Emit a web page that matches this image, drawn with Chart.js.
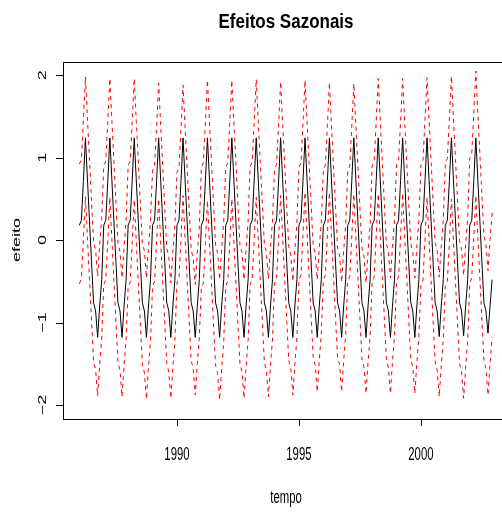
<!DOCTYPE html>
<html>
<head>
<meta charset="utf-8">
<script src="https://cdn.jsdelivr.net/npm/chart.js@4.4.0/dist/chart.umd.min.js"></script>
<style>
  html, body { margin: 0; padding: 0; background: #fff; overflow: hidden; }
  #wrap { width: 502px; height: 515px; overflow: hidden; }
</style>
</head>
<body>
<div id="wrap"><canvas id="myChart" width="512" height="515"></canvas></div>
<script>
// monthly seasonal effects, one row per year (Jan..Dec)
const anos = [1986, 1987, 1988, 1989, 1990, 1991, 1992, 1993, 1994, 1995, 1996, 1997, 1998, 1999, 2000, 2001, 2002];

const efeito = [
  [0.18, 0.24, 0.72, 1.24, 0.73, 0.23, -0.27, -0.76, -0.86, -1.18, -0.80, -0.48],
  [0.18, 0.24, 0.72, 1.24, 0.73, 0.23, -0.27, -0.76, -0.86, -1.18, -0.80, -0.48],
  [0.18, 0.24, 0.72, 1.24, 0.73, 0.23, -0.27, -0.76, -0.86, -1.18, -0.80, -0.48],
  [0.18, 0.24, 0.72, 1.24, 0.73, 0.23, -0.27, -0.76, -0.86, -1.18, -0.80, -0.48],
  [0.18, 0.24, 0.72, 1.24, 0.73, 0.23, -0.27, -0.76, -0.86, -1.18, -0.80, -0.48],
  [0.18, 0.24, 0.72, 1.24, 0.73, 0.23, -0.27, -0.76, -0.86, -1.18, -0.80, -0.48],
  [0.18, 0.24, 0.72, 1.24, 0.73, 0.23, -0.27, -0.76, -0.86, -1.18, -0.80, -0.48],
  [0.18, 0.24, 0.72, 1.24, 0.73, 0.23, -0.27, -0.76, -0.86, -1.18, -0.80, -0.48],
  [0.18, 0.24, 0.72, 1.24, 0.73, 0.23, -0.27, -0.76, -0.86, -1.18, -0.80, -0.48],
  [0.18, 0.24, 0.72, 1.24, 0.73, 0.23, -0.27, -0.76, -0.86, -1.18, -0.80, -0.48],
  [0.18, 0.24, 0.72, 1.24, 0.73, 0.23, -0.27, -0.76, -0.86, -1.18, -0.80, -0.48],
  [0.18, 0.24, 0.72, 1.24, 0.73, 0.23, -0.27, -0.76, -0.86, -1.18, -0.80, -0.48],
  [0.18, 0.24, 0.72, 1.24, 0.73, 0.23, -0.27, -0.76, -0.86, -1.18, -0.80, -0.48],
  [0.18, 0.24, 0.72, 1.24, 0.73, 0.23, -0.27, -0.76, -0.86, -1.18, -0.80, -0.48],
  [0.18, 0.24, 0.72, 1.24, 0.73, 0.23, -0.27, -0.76, -0.86, -1.17, -0.80, -0.48],
  [0.18, 0.24, 0.72, 1.24, 0.73, 0.23, -0.27, -0.76, -0.86, -1.16, -0.80, -0.48],
  [0.18, 0.24, 0.72, 1.24, 0.73, 0.23, -0.27, -0.76, -0.86, -1.13, -0.80, -0.48]
];

const limiteSup = [
  [0.92, 0.98, 1.46, 1.98, 1.47, 0.97, 0.47, -0.02, -0.12, -0.44, -0.06, 0.26],
  [0.90, 0.96, 1.44, 1.96, 1.45, 0.95, 0.45, -0.04, -0.14, -0.46, -0.08, 0.24],
  [0.91, 0.95, 1.45, 1.96, 1.44, 0.96, 0.44, -0.05, -0.13, -0.46, -0.09, 0.25],
  [0.84, 0.90, 1.38, 1.90, 1.39, 0.89, 0.39, -0.10, -0.20, -0.52, -0.14, 0.18],
  [0.82, 0.88, 1.36, 1.88, 1.37, 0.87, 0.37, -0.12, -0.22, -0.54, -0.16, 0.16],
  [0.88, 0.94, 1.42, 1.94, 1.43, 0.93, 0.43, -0.06, -0.16, -0.48, -0.10, 0.22],
  [0.89, 0.93, 1.43, 1.94, 1.42, 0.94, 0.42, -0.07, -0.15, -0.48, -0.11, 0.23],
  [0.89, 0.95, 1.43, 1.95, 1.44, 0.94, 0.44, -0.05, -0.15, -0.47, -0.09, 0.23],
  [0.86, 0.92, 1.40, 1.92, 1.41, 0.91, 0.41, -0.08, -0.18, -0.50, -0.12, 0.20],
  [0.88, 0.94, 1.42, 1.94, 1.43, 0.93, 0.43, -0.06, -0.16, -0.48, -0.10, 0.22],
  [0.85, 0.91, 1.39, 1.91, 1.40, 0.90, 0.40, -0.09, -0.19, -0.51, -0.13, 0.19],
  [0.84, 0.90, 1.38, 1.90, 1.39, 0.89, 0.39, -0.10, -0.20, -0.52, -0.14, 0.18],
  [0.90, 0.96, 1.44, 1.96, 1.45, 0.95, 0.45, -0.04, -0.14, -0.46, -0.08, 0.24],
  [0.91, 0.97, 1.44, 1.96, 1.44, 0.95, 0.46, -0.04, -0.15, -0.46, -0.07, 0.24],
  [0.91, 0.97, 1.45, 1.97, 1.46, 0.96, 0.46, -0.03, -0.13, -0.45, -0.07, 0.25],
  [0.93, 0.99, 1.47, 1.99, 1.48, 0.98, 0.48, -0.01, -0.11, -0.43, -0.05, 0.27],
  [0.99, 1.05, 1.53, 2.05, 1.54, 1.04, 0.54, 0.05, -0.05, -0.37, 0.01, 0.33]
];

const limiteInf = [
  [-0.53, -0.47, 0.01, 0.53, 0.02, -0.48, -0.98, -1.47, -1.57, -1.89, -1.51, -1.19],
  [-0.54, -0.48, 0.00, 0.52, 0.01, -0.49, -0.99, -1.48, -1.58, -1.90, -1.52, -1.20],
  [-0.57, -0.51, -0.03, 0.49, -0.02, -0.52, -1.02, -1.51, -1.61, -1.93, -1.55, -1.23],
  [-0.56, -0.50, -0.02, 0.50, -0.01, -0.51, -1.01, -1.50, -1.60, -1.92, -1.54, -1.22],
  [-0.52, -0.46, 0.02, 0.54, 0.03, -0.47, -0.97, -1.46, -1.56, -1.88, -1.50, -1.18],
  [-0.58, -0.52, -0.04, 0.48, -0.03, -0.53, -1.03, -1.52, -1.62, -1.94, -1.56, -1.24],
  [-0.56, -0.50, -0.02, 0.50, -0.01, -0.51, -1.01, -1.50, -1.60, -1.92, -1.54, -1.22],
  [-0.54, -0.48, 0.00, 0.52, 0.01, -0.49, -0.99, -1.48, -1.58, -1.90, -1.52, -1.20],
  [-0.52, -0.46, 0.02, 0.54, 0.03, -0.47, -0.97, -1.46, -1.56, -1.88, -1.50, -1.18],
  [-0.48, -0.42, 0.06, 0.58, 0.07, -0.43, -0.93, -1.42, -1.52, -1.84, -1.46, -1.14],
  [-0.48, -0.43, 0.07, 0.58, 0.06, -0.43, -0.94, -1.42, -1.51, -1.84, -1.47, -1.14],
  [-0.50, -0.44, 0.04, 0.56, 0.05, -0.45, -0.95, -1.44, -1.54, -1.86, -1.48, -1.16],
  [-0.50, -0.45, 0.05, 0.56, 0.04, -0.45, -0.94, -1.44, -1.55, -1.86, -1.48, -1.17],
  [-0.51, -0.44, 0.04, 0.57, 0.05, -0.44, -0.95, -1.45, -1.54, -1.86, -1.49, -1.16],
  [-0.54, -0.48, 0.00, 0.52, 0.01, -0.49, -0.99, -1.48, -1.58, -1.90, -1.52, -1.20],
  [-0.56, -0.50, -0.02, 0.50, -0.01, -0.51, -1.01, -1.50, -1.60, -1.92, -1.54, -1.22],
  [-0.52, -0.46, 0.02, 0.54, 0.03, -0.47, -0.97, -1.46, -1.56, -1.88, -1.50, -1.18]
];

const xTicks = [1990, 1995, 2000];
const yTicks = [-2, -1, 0, 1, 2];
const titulo = 'Efeitos Sazonais';
const xTitulo = 'tempo';
const yTitulo = 'efeito';

function toPoints(rows) {
    const pts = [];
    rows.forEach((row, i) => {
        row.forEach((v, m) => pts.push({ x: anos[i] + m / 12, y: v }));
    });
    return pts;
}

// squashed text like the reference (narrow Helvetica)
function drawText(ctx, text, x, y, font, sx, rot) {
    ctx.save();
    ctx.translate(x, y);
    if (rot) ctx.rotate(-Math.PI / 2);
    if (rot) ctx.scale(1, sx); else ctx.scale(sx, 1);
    ctx.font = font;
    ctx.fillStyle = '#000';
    ctx.textAlign = 'center';
    ctx.textBaseline = 'middle';
    ctx.fillText(text, 0, 0);
    ctx.restore();
}

const rAxes = {
    id: 'rAxes',
    afterDraw(chart) {
        const ctx = chart.ctx;
        const a = chart.chartArea;
        const xs = chart.scales.x;
        const ys = chart.scales.y;
        ctx.save();
        ctx.strokeStyle = '#000';
        ctx.lineWidth = 1;
        ctx.strokeRect(Math.round(a.left) + 0.5, Math.round(a.top) + 0.5, Math.round(a.right - a.left), Math.round(a.bottom - a.top));

        ctx.beginPath();
        xTicks.forEach(t => {
            const px = Math.round(xs.getPixelForValue(t)) + 0.5;
            ctx.moveTo(px, a.bottom);
            ctx.lineTo(px, a.bottom + 7);
        });
        yTicks.forEach(t => {
            const py = Math.round(ys.getPixelForValue(t)) + 0.5;
            ctx.moveTo(a.left, py);
            ctx.lineTo(a.left - 7, py);
        });
        ctx.stroke();
        ctx.restore();

        const lab = '18px "Liberation Sans", Arial, sans-serif';
        xTicks.forEach(t => drawText(ctx, String(t), xs.getPixelForValue(t), 455, lab, 0.63, false));
        yTicks.forEach(t => drawText(ctx, t < 0 ? '\u2212' + Math.abs(t) : String(t), 43, ys.getPixelForValue(t), lab, 0.63, true));

        drawText(ctx, titulo, 286, 22, 'bold 20px "Liberation Sans", Arial, sans-serif', 0.85, false);
        drawText(ctx, xTitulo, 286, 498, lab, 0.63, false);
        drawText(ctx, yTitulo, 17, 240, lab, 0.63, true);
    }
};

const ctx = document.getElementById('myChart').getContext('2d');
new Chart(ctx, {
    type: 'line',
    data: {
        datasets: [
            { label: 'efeito', data: toPoints(efeito), borderColor: '#000', borderWidth: 1, order: 2 },
            { label: 'sup', data: toPoints(limiteSup), borderColor: '#ff0000', borderWidth: 1, borderDash: [4, 4], order: 1 },
            { label: 'inf', data: toPoints(limiteInf), borderColor: '#ff0000', borderWidth: 1, borderDash: [4, 4], order: 0 }
        ]
    },
    options: {
        responsive: false,
        animation: false,
        events: [],
        layout: { padding: { left: 63, top: 62, right: 3, bottom: 96 } },
        elements: { point: { radius: 0 }, line: { tension: 0, fill: false } },
        plugins: { legend: { display: false }, tooltip: { enabled: false } },
        scales: {
            x: { type: 'linear', display: false, min: 1985.33, max: 2003.61 },
            y: { type: 'linear', display: false, min: -2.17, max: 2.16 }
        }
    },
    plugins: [rAxes]
});
</script>
</body>
</html>
